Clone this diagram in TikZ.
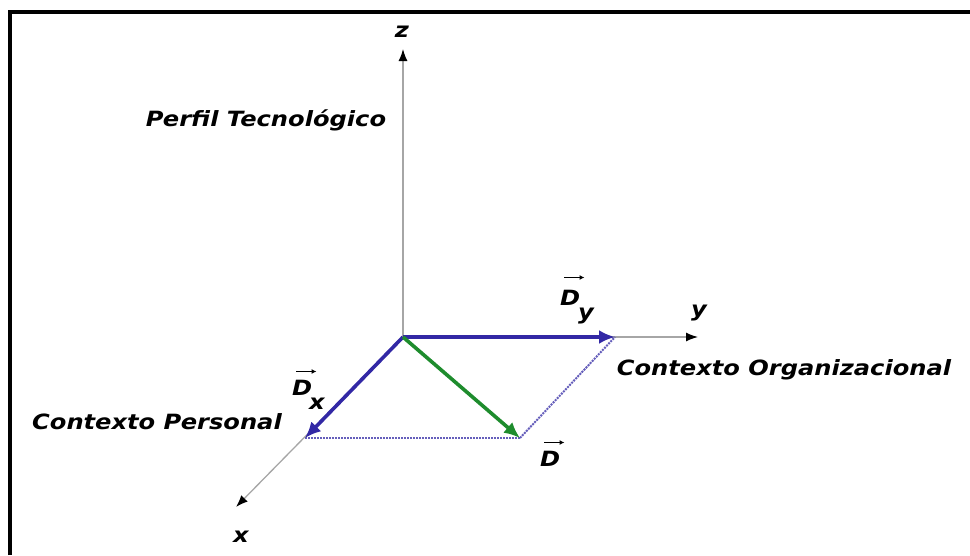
\documentclass[tikz,border=0pt]{standalone}
\usepackage{fontspec}
\newfontfamily\lblfont{DejaVu Sans}
\usetikzlibrary{arrows.meta}
\definecolor{vecblue}{RGB}{50,40,165}
\definecolor{vecgreen}{RGB}{30,140,45}
\begin{document}
\begin{tikzpicture}[x=1pt,y=-1pt,
    axis line/.style={draw=gray!70,line width=1.3pt,-{Latex[color=black,length=12pt,width=9pt]}},
    vec line/.style={line width=3.6pt,-{Latex[length=16pt,width=14pt]}},
    proj line/.style={draw=vecblue!75,densely dotted,line width=2pt},
    accent arrow/.style={line width=1.2pt,-{Latex[length=5pt,width=5pt]}},
    lbl/.style={font=\lblfont\bfseries\itshape\fontsize{21}{26}\selectfont,inner sep=0pt,xscale=1.15} ]
    \useasboundingbox (0,0) rectangle (970,555);
    \draw [line width=4pt] (9.5,555) -- (9.5,11.5) -- (970,11.5);
    % axes
    \coordinate (O) at (403,337);
    \coordinate (zend) at (403,49);
    \coordinate (yend) at (698,337);
    \coordinate (xend) at (236,507);
    \draw [axis line] (O) to (zend);
    \draw [axis line] (O) to (yend);
    \draw [axis line] (O) to (xend);
    \node at (402,32) [lbl] (zlbl) {z};
    \node at (699,313) [lbl] (ylbl) {y};
    \node at (241,537) [lbl] (xlbl) {x};
    % vectors
    \coordinate (Dx) at (305,438);
    \coordinate (Dy) at (615,337);
    \coordinate (D) at (520,438);
    \draw [proj line] (Dx) to (D);
    \draw [proj line] (D) to (Dy);
    \draw [vec line, vecblue] (O) to (Dy);
    \draw [vec line, vecblue] (O) to (Dx);
    \draw [vec line, vecgreen] (O) to (D);
    \node at (560,305) [lbl,anchor=base west] (dylbl) {D};
    \node at (578,308) [lbl,anchor=north west] (dysub) {y};
    \node at (292,395) [lbl,anchor=base west] (dxlbl) {D};
    \node at (309,398) [lbl,anchor=north west] (dxsub) {x};
    \node at (540,466) [lbl,anchor=base west] (dlbl) {D};
    \draw [accent arrow] ([shift={(4,-12)}]dylbl.north west) -- ([shift={(4,-12)}]dylbl.north east);
    \draw [accent arrow] ([shift={(4,-8)}]dxlbl.north west) -- ([shift={(4,-8)}]dxlbl.north east);
    \draw [accent arrow] ([shift={(4,-8)}]dlbl.north west) -- ([shift={(4,-8)}]dlbl.north east);
    % contexts
    \node at (266,120) [lbl] (perfil) {Perfil Tecnológico};
    \node at (784,370) [lbl] (organiz) {Contexto Organizacional};
    \node at (157,422) [lbl] (personal) {Contexto Personal};
\end{tikzpicture}
\end{document}
